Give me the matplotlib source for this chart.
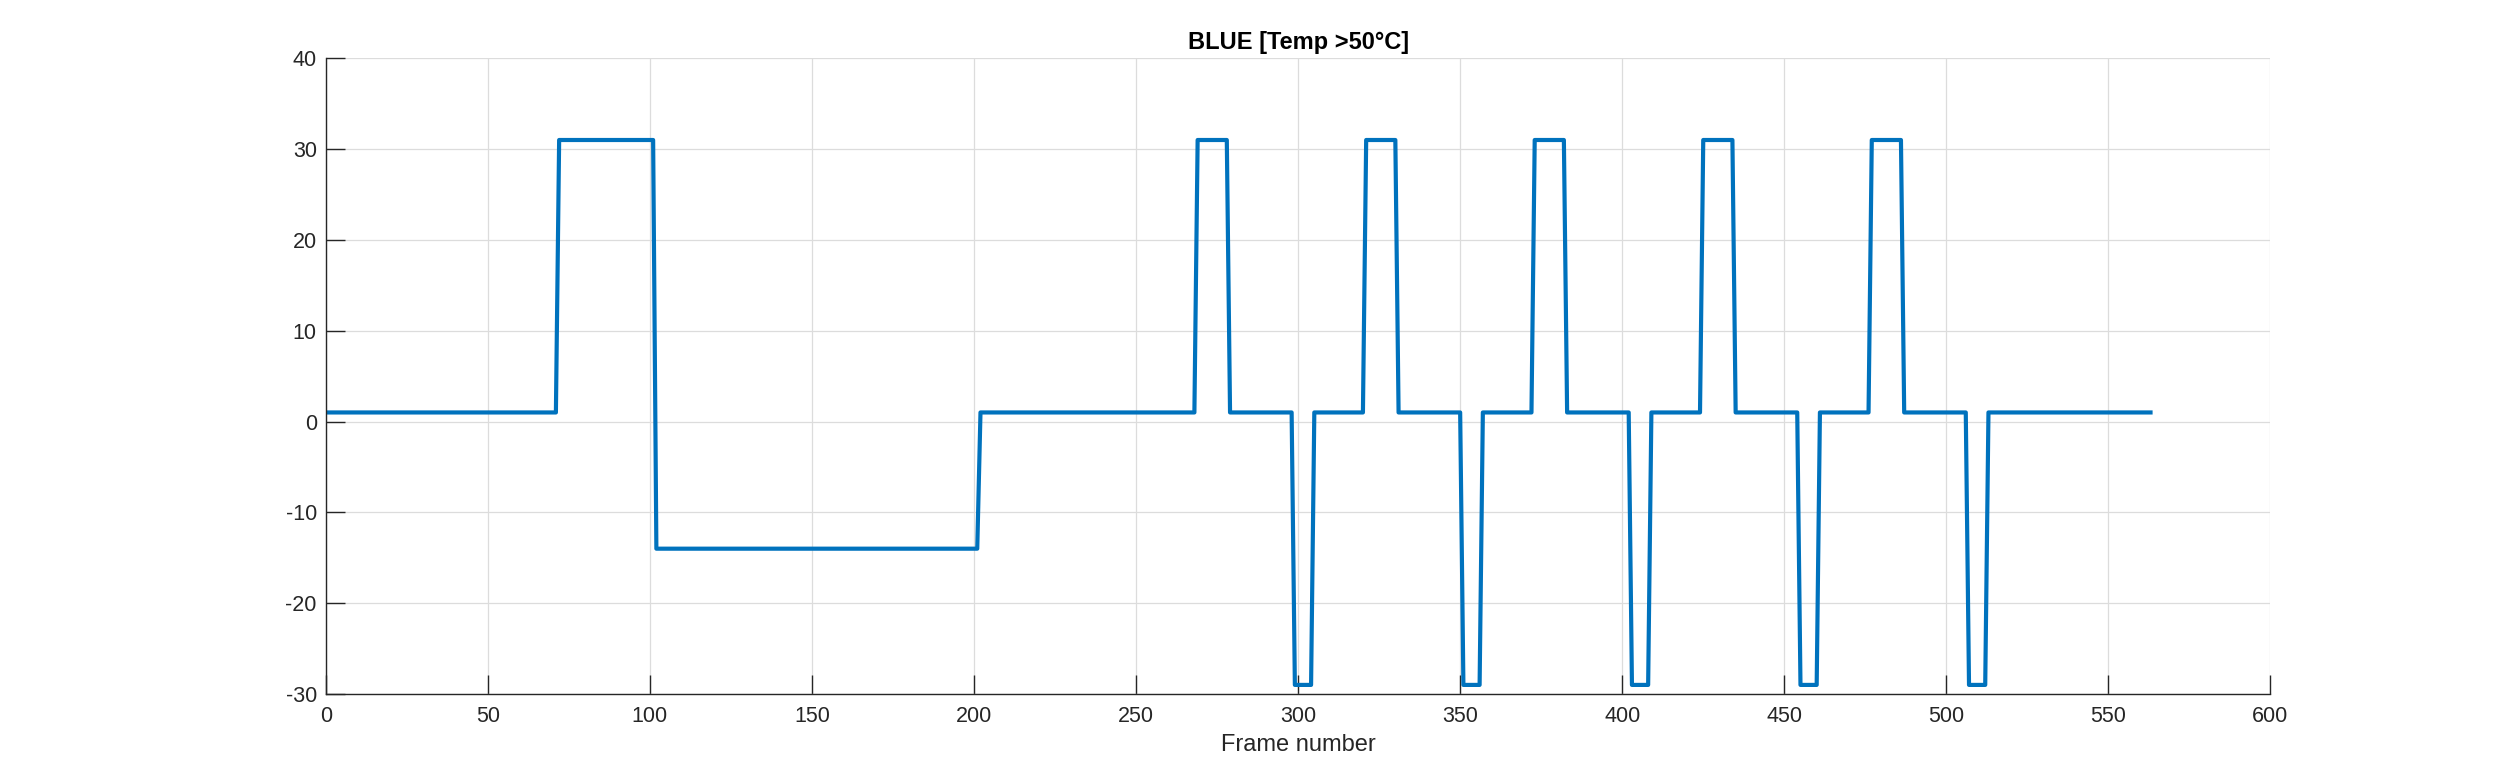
import numpy as np
import matplotlib
matplotlib.use("Agg")
import matplotlib.pyplot as plt

# Run-length description of the signal: value level and last frame of each run
levels = [1, 31, -14, 1, 31, 1, -29, 1, 31, 1, -29, 1, 31, 1, -29, 1, 31, 1, -29, 1, 31, 1, -29, 1]
run_end = [71, 101, 201, 268, 278, 298, 304, 320, 330, 350, 356, 372, 382, 402, 408, 424, 434, 454,
           460, 476, 486, 506, 512, 563]

title = "BLUE [Temp >50°C]"
xlabel = "Frame number"
xticks = [0, 50, 100, 150, 200, 250, 300, 350, 400, 450, 500, 550, 600]
yticks = [-30, -20, -10, 0, 10, 20, 30, 40]

# expand runs to per-frame values
frames = np.arange(1, run_end[-1] + 1)
values = np.empty(len(frames))
start = 1
for lv, end in zip(levels, run_end):
    values[start - 1:end] = lv
    start = end + 1

plt.rcParams['font.family'] = ['Liberation Sans', 'DejaVu Sans']
plt.rcParams['axes.unicode_minus'] = False

fig = plt.figure(figsize=(25.06, 7.81), dpi=100)
ax = fig.add_axes([0.13, 0.1114, 0.776, 0.814])

ax.plot(frames, values, color='#0072BD', linewidth=3.0, solid_joinstyle='round')

ax.set_xlim(0, 600)
ax.set_ylim(-30, 40)
ax.set_xticks(xticks)
ax.set_yticks(yticks)
ax.grid(True, color='#dcdcdc', linewidth=0.9)
ax.set_axisbelow(True)

for s in ['top', 'right']:
    ax.spines[s].set_visible(False)
for s in ['left', 'bottom']:
    ax.spines[s].set_color('#262626')
    ax.spines[s].set_linewidth(1.0)

ax.tick_params(axis='both', direction='in', length=14, width=1.0, color='#262626',
               labelcolor='#262626', labelsize=15.5)
ax.tick_params(axis='y', pad=6.5)
ax.tick_params(axis='x', pad=9)

ax.set_title(title, fontsize=17, fontweight='bold', pad=7, color='black')
ax.set_xlabel(xlabel, fontsize=17, color='#262626', labelpad=5)

fig.savefig("out.png", dpi=100)
